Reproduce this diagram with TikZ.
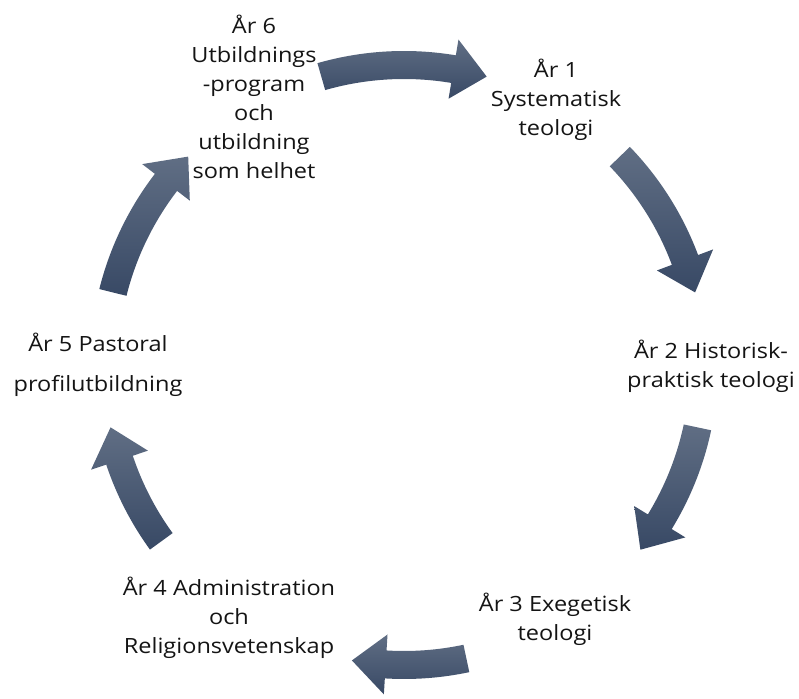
\documentclass[tikz,border=0pt]{standalone}
\usepackage{fontspec}
\setmainfont{Open Sans}[FakeStretch=1.12]
\definecolor{arrtop}{RGB}{96,110,132}
\definecolor{arrbot}{RGB}{56,73,101}
\definecolor{txt}{RGB}{20,20,20}
\tikzset{
  lbl/.style={align=center, font=\fontsize{21}{29}\selectfont, text=txt, inner sep=0pt},
  arr/.style={top color=arrtop, bottom color=arrbot, draw=none},
}
\newcommand\cycarrow[2]{%
  \shade[arr] (#1:286) arc[start angle=#1, end angle=#2+6.5, radius=286]
    -- (#2+6.5:270) -- (#2:300) -- (#2+6.5:330) -- (#2+6.5:314)
    arc[start angle=#2+6.5, end angle=#1, radius=314] -- cycle;}
\begin{document}
\begin{tikzpicture}[x=1pt,y=1pt]
\useasboundingbox (0,0) rectangle (799,698);
\begin{scope}[shift={(404,333)}]
  \cycarrow{106}{74}
  \cycarrow{44}{14}
  \cycarrow{-12}{-38}
  \cycarrow{-78}{-100}
  \cycarrow{216}{192}
  \cycarrow{166}{136}
\end{scope}
\node[lbl] (y1) at (556,598) {År 1\\Systematisk\\teologi};
\node[lbl] (y2) at (711,332) {År 2 Historisk-\\praktisk teologi};
\node[lbl] (y3) at (555,79) {År 3 Exegetisk\\teologi};
\node[lbl] (y4) at (229,80) {År 4 Administration\\och\\Religionsvetenskap};
\node[lbl] (y5) at (98,333) {År 5 Pastoral\\[11pt]profilutbildning};
\node[lbl] (y6) at (254,601) {År 6\\Utbildnings\\-program\\och\\utbildning\\som helhet};
\end{tikzpicture}
\end{document}
